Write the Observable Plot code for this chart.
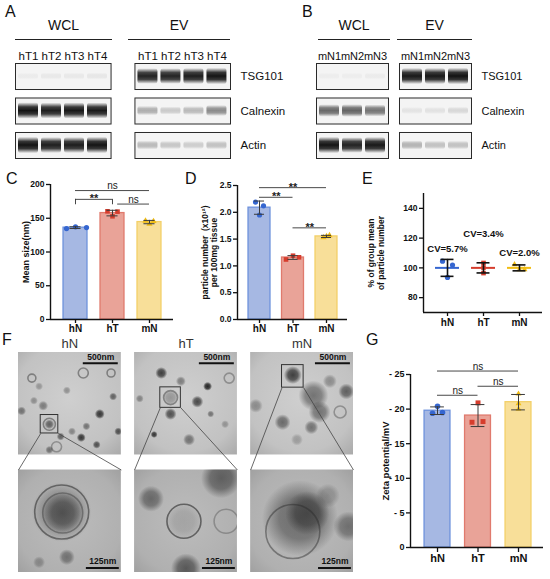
<!DOCTYPE html>
<html><head><meta charset="utf-8">
<script src="https://cdn.jsdelivr.net/npm/d3@7"></script>
<script src="https://cdn.jsdelivr.net/npm/@observablehq/plot@0.6"></script>
<style>
body{margin:0;background:#fff;}
#fig{position:relative;width:550px;height:579px;overflow:hidden;font-family:'Liberation Sans',Arial,Helvetica,sans-serif;color:#111;}
.p{position:absolute;}
.letter{position:absolute;font-size:16px;line-height:18px;}
.hdr{position:absolute;font-size:14px;line-height:18px;text-align:center;border-bottom:1.3px solid #222;height:23px;}
</style></head>
<body>
<svg width="1" height="1" style="position:absolute;left:0;top:0">
<defs>
<linearGradient id="bandG" x1="0" y1="0" x2="0" y2="1">
<stop offset="0" stop-color="#0d0d0d" stop-opacity="0"/>
<stop offset="0.28" stop-color="#0d0d0d" stop-opacity="0.85"/>
<stop offset="0.5" stop-color="#0d0d0d" stop-opacity="1"/>
<stop offset="0.72" stop-color="#0d0d0d" stop-opacity="0.85"/>
<stop offset="1" stop-color="#0d0d0d" stop-opacity="0"/>
</linearGradient>
<radialGradient id="blobG" cx="0.5" cy="0.5" r="0.5">
<stop offset="0" stop-color="#1c1c1c" stop-opacity="1"/>
<stop offset="0.55" stop-color="#1c1c1c" stop-opacity="0.8"/>
<stop offset="1" stop-color="#1c1c1c" stop-opacity="0"/>
</radialGradient>
<radialGradient id="shadeO" cx="0.5" cy="0.45" r="0.75">
<stop offset="0" stop-color="#cfcfcf"/>
<stop offset="0.7" stop-color="#c2c2c2"/>
<stop offset="1" stop-color="#a9a9a9"/>
</radialGradient>
<radialGradient id="shadeZ" cx="0.5" cy="0.5" r="0.75">
<stop offset="0" stop-color="#bcbcbc"/>
<stop offset="0.7" stop-color="#b0b0b0"/>
<stop offset="1" stop-color="#9c9c9c"/>
</radialGradient>
</defs></svg>
<div id="fig"></div>
<script>
// ---------------- data ----------------
const groups = ["hN", "hT", "mN"];

// Western blots (relative band intensity, 0..1)
const lanesA = ["hT1", "hT2", "hT3", "hT4"];
const lanesB = ["mN1", "mN2", "mN3"];
const fractions = ["WCL", "EV"];
const proteins = ["TSG101", "Calnexin", "Actin"];
const aWclTsg = [0.04, 0.05, 0.05, 0.06];
const aEvTsg  = [0.90, 0.90, 0.93, 0.97];
const aWclCnx = [0.97, 0.92, 0.95, 0.94];
const aEvCnx  = [0.30, 0.18, 0.25, 0.45];
const aWclAct = [0.97, 0.92, 0.93, 0.97];
const aEvAct  = [0.25, 0.20, 0.17, 0.22];
const bWclTsg = [0.03, 0.03, 0.04];
const bEvTsg  = [0.95, 0.95, 0.98];
const bWclCnx = [0.60, 0.62, 0.55];
const bEvCnx  = [0.07, 0.08, 0.12];
const bWclAct = [0.97, 0.90, 0.95];
const bEvAct  = [0.28, 0.22, 0.22];

// C: mean size (nm)
const sizeHN = [134.7, 137.3, 136.2];
const sizeHT = [160.3, 159.8, 152.9];
const sizeMN = [146.0, 141.5, 145.5];
const sizeTicks = [0, 50, 100, 150, 200];
const sigSize = [{a:"hN", b:"mN", y:191, t:"ns"}, {a:"hN", b:"hT", y:178, t:"**", tick:true}, {a:"hT", b:"mN", y:171, t:"ns"}];

// D: particle number (x10^12) per 100 mg tissue
const numHN = [2.19, 2.12, 1.95];
const numHT = [1.12, 1.19, 1.16];
const numMN = [1.53, 1.57, 1.55];
const numTicks = [0, 0.5, 1.0, 1.5, 2.0, 2.5];
const sigNum = [{a:"hN", b:"mN", y:2.46, t:"**"}, {a:"hN", b:"hT", y:2.28, t:"**"}, {a:"hT", b:"mN", y:1.71, t:"**"}];

// E: % of group mean of particle number
const pctHN = [104.5, 101.9, 93.6];
const pctHT = [103.3, 100.2, 96.5];
const pctMN = [102.3, 98.9, 98.8];
const pctTicks = [80, 100, 120, 140];
const cvLabels = ["CV=5.7%", "CV=3.4%", "CV=2.0%"];

// G: zeta potential (mV, shown as negative)
const zetaHN = [20.4, 19.4, 19.5];
const zetaHT = [20.9, 18.1, 18.2];
const zetaMN = [22.2, 20.0, 20.8];
const zetaTicks = [0, 5, 10, 15, 20, 25];
const sigZeta = [{a:"hN", b:"mN", y:25.5, t:"ns"}, {a:"hT", b:"mN", y:23.3, t:"ns"}, {a:"hN", b:"hT", y:22.0, t:"ns"}];

// F: TEM images (features as fraction of image, radius px, darkness, ring flag)
const temSamples = ["hN", "hT", "mN"];
const temRows = ["overview", "zoom"];
const vesOvHN = [[0.79,0.6,5,0.85],[0.61,0.83,4.5,0.85],[0.92,0.43,4,0.6],[0.97,0.77,4,0.7],[0.41,0.82,4,0.6],[0.76,0.9,4,0.7],[0.66,0.72,4,0.5],[0.03,0.57,4.5,0.5],[0.24,0.52,5,0.45],[0.47,0.37,4,0.35],[0.15,0.47,4,0.35],[0.52,0.77,4,0.4],[0.3,0.7,5,0.6],[0.3,0.95,4,0.5],[0.2,0.33,4,0.3],[0.13,0.25,4,0.45,1],[0.63,0.2,5,0.45,1],[0.9,0.2,4,0.45,1],[0.37,0.92,5,0.35,1],[0.3,0.7,6,0.45,1]];
const vesOvHT = [[0.26,0.2,6,0.8],[0.61,0.48,6,0.75],[0.35,0.6,6,0.7],[0.45,0.28,5,0.45],[0.71,0.33,4.5,0.95],[0.53,0.85,6,0.5],[0.19,0.8,3.5,0.85],[0.74,0.6,3.5,0.5],[0.05,0.45,4,0.4],[0.88,0.7,4,0.3],[0.35,0.44,8,0.3],[0.92,0.25,5,0.35,1],[0.35,0.44,7,0.4,1]];
const vesOvMN = [[0.41,0.22,9,0.8],[0.61,0.42,15,0.5],[0.67,0.58,11,0.5],[0.31,0.68,8,0.55],[0.59,0.73,7,0.5],[0.05,0.52,7,0.35],[0.93,0.38,8,0.6],[0.77,0.28,7,0.35],[0.45,0.85,6,0.25],[0.87,0.58,6,0.35,1]];
const vesZmHN = [[0.42,0.41,30,0.35],[0.43,0.42,20,0.5],[0.47,0.85,8,0.45],[0.2,0.9,6,0.3],[0.42,0.41,27,0.55,1],[0.43,0.42,20,0.4,1]];
const vesZmHT = [[0.48,0.5,18,0.15],[0.84,0.08,20,0.55],[0.16,0.28,13,0.5],[0.5,0.96,15,0.6],[0.48,0.5,17,0.6,1],[0.89,0.5,12,0.3,1]];
const vesZmMN = [[0.48,0.47,38,0.5],[0.55,0.42,22,0.5],[0.95,0.55,15,0.45],[0.75,0.25,12,0.25],[0.41,0.6,27,0.45,1]];
const insetBoxes = [
  {s:"hN", row:"overview", x1:0.216, x2:0.387, y1:0.61, y2:0.79},
  {s:"hT", row:"overview", x1:0.25, x2:0.45, y1:0.34, y2:0.54},
  {s:"mN", row:"overview", x1:0.305, x2:0.515, y1:0.123, y2:0.343}
];

// ---------------- style ----------------
const FONT = "'Liberation Sans', Arial, Helvetica, sans-serif";
const FILL = ["#a6b8e3", "#e9a398", "#f8df99"];
const EDGE = ["#6e92dc", "#e07a6d", "#f3d068"];
const DOT  = ["#3566d0", "#d63d2d", "#f1bd14"];
const SYM  = ["circle", "square", "triangle"];
const fig = document.getElementById("fig");
const st = fs => ({fontFamily: FONT, fontSize: fs + "px", background: "transparent", overflow: "visible", color: "#111"});
function place(node, left, top) {
  const d = document.createElement("div"); d.className = "p";
  d.style.left = left + "px"; d.style.top = top + "px";
  d.appendChild(node); fig.appendChild(d); return node;
}
function html(cls, text, left, top, width) {
  const d = document.createElement("div"); d.className = cls; d.textContent = text;
  d.style.left = left + "px"; d.style.top = top + "px";
  if (width != null) d.style.width = width + "px";
  fig.appendChild(d);
}

// ---------------- blots ----------------
function blotRows(lanes, sets) {
  return sets.flatMap(([f, p, vals]) => vals.map((v, j) => ({f, p, lane: lanes[j], v})));
}
function blotPlot(lanes, rows, o) {
  return Plot.plot({
    width: o.width, height: 123, marginLeft: o.mL, marginRight: o.mR, marginTop: 23, marginBottom: 5,
    fx: {domain: fractions, paddingInner: o.fxPad, paddingOuter: 0, axis: null, round: false},
    fy: {domain: proteins, paddingInner: 0.246, paddingOuter: 0, axis: "right", tickSize: 0, tickPadding: 10, label: null, round: false},
    x: {domain: lanes, padding: 0.12, axis: "top", tickSize: 0, tickPadding: 4, label: null},
    y: {domain: [0, 1], axis: null},
    opacity: {type: "identity"},
    style: st(o.fs),
    marks: [
      Plot.frame({fill: "#f4f4f4", stroke: "#2a2a2a", strokeWidth: 1}),
      Plot.barY(rows, {fx: "f", fy: "p", x: "lane",
        y1: d => 0.5 - (0.12 + 0.2 * d.v), y2: d => 0.5 + (0.12 + 0.2 * d.v),
        fill: "url(#bandG)", fillOpacity: "v", rx: 3})
    ]
  });
}
place(blotPlot(lanesA, blotRows(lanesA, [["WCL","TSG101",aWclTsg],["EV","TSG101",aEvTsg],["WCL","Calnexin",aWclCnx],["EV","Calnexin",aEvCnx],["WCL","Actin",aWclAct],["EV","Actin",aEvAct]]),
  {width: 300, mL: 15, mR: 70, fxPad: 0.2, fs: 11.5}), 0, 40);
place(blotPlot(lanesB, blotRows(lanesB, [["WCL","TSG101",bWclTsg],["EV","TSG101",bEvTsg],["WCL","Calnexin",bWclCnx],["EV","Calnexin",bEvCnx],["WCL","Actin",bWclAct],["EV","Actin",bEvAct]]),
  {width: 270, mL: 36, mR: 79, fxPad: 0.1325, fs: 11}), 280, 40);

// ---------------- bar charts ----------------
function barChart(o) {
  const rows = o.vals.flatMap((vs, i) => vs.map((v, r) => ({i, r, v})));
  const summ = o.vals.map((vs, i) => ({i, mean: d3.mean(vs), sd: d3.deviation(vs)}));
  const step = (o.width - o.mL - o.mR) / (o.xDom[1] - o.xDom[0]);
  const [y0, yTop] = o.yDomain;
  const caps = summ.flatMap(s => [{i: s.i, y: s.mean - s.sd}, {i: s.i, y: s.mean + s.sd}]);
  const idx = g => groups.indexOf(g);
  const marks = [];
  summ.forEach(s => marks.push(Plot.rect([s], {x1: d => d.i - o.hw, x2: d => d.i + o.hw, y1: y0, y2: "mean", fill: FILL[s.i], stroke: EDGE[s.i], strokeWidth: 1.3})));
  groups.forEach((g, i) => marks.push(Plot.dot(rows.filter(d => d.i === i), {x: d => d.i + o.jit[i][d.r] / step, y: "v", symbol: SYM[i], fill: DOT[i], r: o.dotR[i]})));
  marks.push(Plot.ruleX(summ, {x: "i", y1: d => d.mean - d.sd, y2: d => d.mean + d.sd, stroke: "#3a3a3a", strokeWidth: 1}));
  marks.push(Plot.ruleY(caps, {y: "y", x1: d => d.i - o.cap, x2: d => d.i + o.cap, stroke: "#3a3a3a", strokeWidth: 1}));
  marks.push(Plot.ruleX([o.xDom[0]], {y1: y0, y2: yTop, stroke: "#111", strokeWidth: 1.4}));
  marks.push(Plot.ruleY([y0], {stroke: "#111", strokeWidth: 1.4}));
  marks.push(Plot.axisY({ticks: o.yTicks, tickFormat: o.yFmt, tickSize: 4, tickPadding: 2, fontWeight: "bold", fontSize: o.tickFs, label: null, strokeWidth: 1.3}));
  marks.push(Plot.axisX({ticks: [0, 1, 2], tickFormat: i => groups[i], tickSize: o.xTick, tickPadding: 1.5, fontWeight: "bold", fontSize: o.catFs, label: null, strokeWidth: 1.3}));
  const sig = o.sig.map(d => ({...d, x1: idx(d.a) + (d.a === "hT" ? o.sigPad : 0), x2: idx(d.b)}));
  marks.push(Plot.ruleY(sig, {y: "y", x1: "x1", x2: "x2", stroke: "#333", strokeWidth: 0.9}));
  const tk = sig.filter(d => d.tick).flatMap(d => [{x: d.x1, y1: d.y, y2: d.y - o.tickLen}, {x: d.x2, y1: d.y, y2: d.y - o.tickLen}]);
  marks.push(Plot.ruleX(tk, {x: "x", y1: "y1", y2: "y2", stroke: "#333", strokeWidth: 0.9}));
  marks.push(Plot.text(sig.filter(d => d.t === "ns"), {x: d => (d.x1 + d.x2) / 2, y: "y", text: "t", lineAnchor: "bottom", dy: -1.5, fontSize: 10, fill: "#222"}));
  marks.push(Plot.text(sig.filter(d => d.t !== "ns"), {x: d => (d.x1 + d.x2) / 2, y: "y", text: "t", lineAnchor: "bottom", dy: 3, fontSize: 11, fontWeight: "bold", fill: "#222"}));
  marks.push(Plot.text([o.title], {frameAnchor: "left", textAnchor: "middle", lineAnchor: "middle", rotate: -90, dx: o.titleDx, text: d => d, fontWeight: "bold", fontSize: o.titleFs, lineHeight: 1.1}));
  return Plot.plot({width: o.width, height: o.height, marginLeft: o.mL, marginRight: o.mR, marginTop: o.mT, marginBottom: o.mB,
    x: {domain: o.xDom}, y: {domain: o.yDomain}, style: st(9), marks});
}

place(barChart({vals: [sizeHN, sizeHT, sizeMN], yDomain: [0, 200], yTicks: sizeTicks, yFmt: d => d,
  width: 185, height: 172, mL: 50, mR: 12, mT: 14, mB: 23, xDom: [-0.676, 2.649], hw: 0.324, cap: 0.15,
  jit: [[-9, 0, 11], [-5, 5, 0], [-4, 0, 4]], dotR: [2.6, 2.6, 2.3], sig: sigSize, sigPad: 0.14, tickLen: 8,
  tickFs: 8.5, catFs: 10, xTick: 4, title: "Mean size(nm)", titleDx: -25, titleFs: 9}), 0, 170);

place(barChart({vals: [numHN, numHT, numMN], yDomain: [0, 2.5], yTicks: numTicks, yFmt: d3.format(".1f"),
  width: 175, height: 172, mL: 52, mR: 13, mT: 15, mB: 23, xDom: [-0.657, 2.627], hw: 0.328, cap: 0.15,
  jit: [[-4, 4, 0], [-7, 0, 6], [-3, 3, 0]], dotR: [2.6, 2.6, 2.3], sig: sigNum, sigPad: 0, tickLen: 0,
  tickFs: 8.5, catFs: 10, xTick: 4, title: "particle number  (x10¹²)\nper 100mg tissue", titleDx: -28, titleFs: 8.5}), 185, 170);

place(barChart({vals: [zetaHN, zetaHT, zetaMN], yDomain: [0, 25], yTicks: zetaTicks, yFmt: d => d === 0 ? "0" : "- " + d,
  width: 188, height: 234, mL: 48, mR: 7, mT: 29, mB: 32, xDom: [-0.667, 2.617], hw: 0.32, cap: 0.17,
  jit: [[0, -5, 5], [0, -6, 5], [0, 0, 0]], dotR: [2.8, 2.8, 2.2], sig: sigZeta, sigPad: 0, tickLen: 0,
  tickFs: 9, catFs: 11, xTick: 5, title: "Zeta potential/mV", titleDx: -25, titleFs: 9.5}), 362, 345);

// ---------------- E: mean ± SD scatter ----------------
(function () {
  const vals = [pctHN, pctHT, pctMN];
  const width = 188, mL = 61, mR = 8, xDom = [-0.667, 2.639];
  const step = (width - mL - mR) / (xDom[1] - xDom[0]);
  const jit = [[-5, 5, 0], [0, 0, 0], [-5, 5, 0]];
  const rows = vals.flatMap((vs, i) => vs.map((v, r) => ({i, r, v})));
  const summ = vals.map((vs, i) => ({i, mean: d3.mean(vs), sd: d3.deviation(vs)}));
  const caps = summ.flatMap(s => [{i: s.i, y: s.mean - s.sd}, {i: s.i, y: s.mean + s.sd}]);
  const cvY = [113, 122.5, 110];
  const marks = [];
  groups.forEach((g, i) => marks.push(Plot.dot(rows.filter(d => d.i === i), {x: d => d.i + jit[i][d.r] / step, y: "v", symbol: SYM[i], fill: DOT[i], r: i === 2 ? 2.2 : 2.6})));
  groups.forEach((g, i) => marks.push(Plot.ruleY(summ.filter(d => d.i === i), {y: "mean", x1: d => d.i - 0.333, x2: d => d.i + 0.333, stroke: DOT[i], strokeWidth: 2})));
  marks.push(Plot.ruleX(summ, {x: "i", y1: d => d.mean - d.sd, y2: d => d.mean + d.sd, stroke: "#111", strokeWidth: 1.6}));
  marks.push(Plot.ruleY(caps, {y: "y", x1: d => d.i - 0.18, x2: d => d.i + 0.18, stroke: "#111", strokeWidth: 1.6}));
  marks.push(Plot.text(cvLabels, {x: (d, i) => i, y: (d, i) => cvY[i], text: d => d, fontWeight: "bold", fontSize: 9.5}));
  marks.push(Plot.ruleX([xDom[0]], {y1: 70, y2: 150, stroke: "#111", strokeWidth: 1.4}));
  marks.push(Plot.ruleY([70], {stroke: "#111", strokeWidth: 1.4}));
  marks.push(Plot.axisY({ticks: pctTicks, tickSize: 4, tickPadding: 2, fontWeight: "bold", fontSize: 8.5, label: null, strokeWidth: 1.3}));
  marks.push(Plot.axisX({ticks: [0, 1, 2], tickFormat: i => groups[i], tickSize: 4, tickPadding: 2, fontWeight: "bold", fontSize: 10, label: null, strokeWidth: 1.3}));
  marks.push(Plot.text(["% of group mean\nof particle number"], {frameAnchor: "left", textAnchor: "middle", lineAnchor: "middle", rotate: -90, dx: -48, text: d => d, fontWeight: "bold", fontSize: 8.5, lineHeight: 1.15}));
  place(Plot.plot({width, height: 172, marginLeft: mL, marginRight: mR, marginTop: 23, marginBottom: 30,
    x: {domain: xDom}, y: {domain: [70, 150]}, style: st(9), marks}), 362, 170);
})();

// ---------------- F: TEM ----------------
(function () {
  const FYPAD = 0.128;
  const below = 1 / (1 - FYPAD);
  const cells = temSamples.flatMap(s => temRows.map(row => ({s, row})));
  const ves = [["hN","overview",vesOvHN],["hT","overview",vesOvHT],["mN","overview",vesOvMN],["hN","zoom",vesZmHN],["hT","zoom",vesZmHT],["mN","zoom",vesZmMN]]
    .flatMap(([s, row, arr]) => arr.map(([x, y, r, k, ring]) => ({s, row, x, y, r, k, ring: !!ring})));
  const links = insetBoxes.flatMap(b => [{s: b.s, row: b.row, x1: b.x1, y1: b.y2, x2: 0, y2: below}, {s: b.s, row: b.row, x1: b.x2, y1: b.y2, x2: 1, y2: below}]);
  const bars = temSamples.flatMap(s => [{s, row: "overview", x1: 0.63, x2: 0.97, y: 0.105, ty: 0.05, t: "500nm"}, {s, row: "zoom", x1: 0.66, x2: 0.98, y: 0.955, ty: 0.89, t: "125nm"}]);
  place(Plot.plot({
    width: 365, height: 249, marginLeft: 18, marginRight: 12, marginTop: 22, marginBottom: 7,
    fx: {domain: temSamples, paddingInner: 0.114, paddingOuter: 0, axis: "top", tickSize: 0, tickPadding: 5, label: null, round: false},
    fy: {domain: temRows, paddingInner: FYPAD, paddingOuter: 0, axis: null, round: false},
    x: {domain: [0, 1], axis: null}, y: {domain: [0, 1], reverse: true, axis: null},
    r: {type: "identity"}, opacity: {type: "identity"}, color: {type: "identity"},
    style: {...st(13), color: "#333"},
    marks: [
      Plot.rect(cells, {fx: "s", fy: "row", x1: 0, x2: 1, y1: 0, y2: 1, fill: d => d.row === "overview" ? "url(#shadeO)" : "url(#shadeZ)"}),
      Plot.dot(ves.filter(d => !d.ring), {fx: "s", fy: "row", x: "x", y: "y", r: "r", fill: "url(#blobG)", fillOpacity: "k", clip: true}),
      Plot.dot(ves.filter(d => d.ring), {fx: "s", fy: "row", x: "x", y: "y", r: "r", fill: "none", stroke: "#2a2a2a", strokeOpacity: "k", strokeWidth: 1.6, clip: true}),
      Plot.rect(insetBoxes, {fx: "s", fy: "row", x1: "x1", x2: "x2", y1: "y1", y2: "y2", fill: "none", stroke: "#333", strokeWidth: 1}),
      Plot.link(links, {fx: "s", fy: "row", x1: "x1", y1: "y1", x2: "x2", y2: "y2", stroke: "#444", strokeWidth: 0.8}),
      Plot.ruleY(bars, {fx: "s", fy: "row", y: "y", x1: "x1", x2: "x2", stroke: "#111", strokeWidth: 2}),
      Plot.text(bars, {fx: "s", fy: "row", x: d => (d.x1 + d.x2) / 2, y: "ty", text: "t", fontSize: 8.5, fontWeight: "bold", fill: "#111"})
    ]
  }), 0, 330);
})();

// ---------------- headers & panel letters ----------------
html("hdr", "WCL", 15, 16, 97);
html("hdr", "EV", 128, 16, 102);
html("hdr", "WCL", 318, 16, 72);
html("hdr", "EV", 397, 16, 75);
[["A", 5, 3], ["B", 302, 3], ["C", 6, 170], ["D", 185, 170], ["E", 362, 170], ["F", 2, 331], ["G", 366, 331]]
  .forEach(([t, x, y]) => html("letter", t, x, y));
</script>
</body></html>
